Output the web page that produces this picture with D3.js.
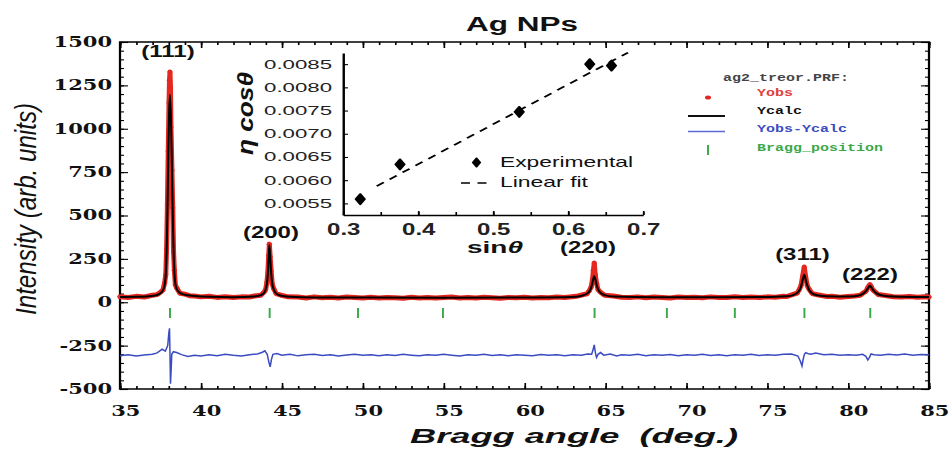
<!DOCTYPE html>
<meta charset="utf-8">
<style type="text/css">
html, body { margin: 0; padding: 0; background: #fff; }
svg { display: block; }
.frame { fill: none; stroke: #000; stroke-width: 1.5; }
.obsline { fill: none; stroke: #e4271f; stroke-width: 5; stroke-linejoin: round; stroke-linecap: round; vector-effect: non-scaling-stroke; }
.obsdot { fill: #e4271f; }
.calc { fill: none; stroke: #000; stroke-width: 2; stroke-linejoin: round; vector-effect: non-scaling-stroke; }
.diff { fill: none; stroke: #3a4cc0; stroke-width: 1.5; vector-effect: non-scaling-stroke; }
.bragg { stroke: #3ba84a; stroke-width: 1.3; }
.fit { fill: none; stroke: #000; stroke-width: 1.6; stroke-dasharray: 6 5; }
</style>
<body>
</body>
<script src="https://d3js.org/d3.v7.min.js"></script>
<script>

// ---- data ----

// Ycalc : [2theta, intensity]
var yCalc = [[35.0,30],[36.0,31],[36.8,34],[37.3,42],[37.5,52],[37.65,68],[37.76,100],[37.83,165],[37.88,285],
  [37.93,515],[37.98,815],[38.03,1075],[38.09,1195],[38.15,1055],[38.21,785],[38.26,515],[38.31,300],[38.36,175],
  [38.42,108],[38.52,74],[38.7,54],[39.0,43],[39.6,36],[40.5,31],[42.0,29],[43.3,33],[43.7,41],[43.9,54],[44.0,74],
  [44.08,108],[44.14,168],[44.19,258],[44.23,330],[44.28,268],[44.34,172],[44.41,108],[44.5,74],[44.65,51],[44.9,39],
  [45.5,32],[47,28],[50,27],[55,26],[60,27],[62.5,29],[63.2,32],[63.6,39],[63.85,49],[64.0,61],[64.12,84],[64.2,113],
  [64.26,138],[64.31,150],[64.37,136],[64.45,103],[64.55,74],[64.7,54],[64.95,41],[65.5,33],[68,29],[72,29],[75.5,31],
  [76.2,34],[76.6,41],[76.85,54],[77.0,71],[77.1,94],[77.19,128],[77.29,158],[77.38,130],[77.48,96],[77.6,69],
  [77.78,51],[78.1,40],[78.7,34],[79.8,33],[80.4,35],[80.75,41],[80.95,51],[81.1,64],[81.2,77],[81.28,89],[81.35,95],
  [81.43,87],[81.52,74],[81.65,59],[81.85,46],[82.2,38],[82.8,33],[85,30]];

// Yobs : [2theta, intensity]
var yObs = [[35.0,32],[35.5,27],[36.0,34],[36.5,30],[37.0,40],[37.3,44],[37.5,58],[37.65,70],[37.76,112],[37.83,160],
  [37.88,310],[37.93,560],[37.98,870],[38.03,1150],[38.06,1280],[38.09,1327],[38.12,1240],[38.15,1010],[38.21,760],
  [38.26,545],[38.31,290],[38.36,185],[38.42,100],[38.52,80],[38.7,52],[39.0,47],[39.3,38],[39.6,36],[40.0,31],
  [40.5,34],[41.0,28],[41.5,32],[42.0,27],[42.5,31],[43.0,30],[43.3,36],[43.7,40],[43.9,58],[44.0,72],[44.08,115],
  [44.14,175],[44.19,270],[44.23,335],[44.28,262],[44.34,180],[44.41,105],[44.5,78],[44.65,50],[44.9,42],[45.4,31],
  [46,30],[46.5,25],[47,31],[47.5,26],[48,29],[48.5,24],[49,30],[49.5,27],[50,25],[50.5,29],[51,24],[51.5,28],[52,26],
  [52.5,23],[53,29],[53.5,25],[54,28],[54.5,24],[55,27],[55.5,30],[56,25],[56.5,28],[57,24],[57.5,29],[58,26],
  [58.5,23],[59,28],[59.5,26],[60,29],[60.5,25],[61,28],[61.5,26],[62,30],[62.5,27],[63.2,34],[63.6,43],[63.85,48],
  [64.0,66],[64.12,88],[64.2,130],[64.26,185],[64.31,226],[64.37,160],[64.45,110],[64.55,72],[64.7,58],[64.95,40],
  [65.5,36],[66,29],[66.5,27],[67,31],[67.5,26],[68,30],[68.5,27],[69,25],[69.5,30],[70,27],[70.5,29],[71,26],
  [71.5,31],[72,28],[72.5,27],[73,32],[73.5,28],[74,30],[74.5,27],[75,31],[75.5,29],[76,34],[76.2,33],[76.6,45],
  [76.85,52],[77.0,76],[77.1,100],[77.19,150],[77.29,203],[77.38,145],[77.48,95],[77.6,73],[77.78,50],[78.1,43],
  [78.7,33],[79,34],[79.5,29],[80,33],[80.4,36],[80.75,40],[80.95,55],[81.1,63],[81.2,82],[81.28,93],[81.35,102],
  [81.43,90],[81.52,72],[81.65,62],[81.85,45],[82.2,40],[82.8,32],[83.3,30],[83.8,33],[84.3,29],[84.7,31],[85,30]];

// Yobs-Ycalc, as plotted (offset curve)
var yDiff = [[35,-308],[35.5,-302],[36,-310],[36.5,-304],[37,-300],[37.3,-292],[37.6,-270],[37.8,-282],[37.95,-250],
  [38.02,-175],[38.06,-150],[38.09,-300],[38.12,-470],[38.16,-390],[38.2,-300],[38.3,-285],[38.5,-290],[38.8,-302],
  [39.2,-312],[39.6,-306],[40,-310],[40.5,-303],[41,-308],[41.5,-300],[42,-306],[42.5,-310],[43,-302],[43.5,-298],
  [43.8,-288],[43.95,-280],[44.1,-300],[44.2,-345],[44.28,-372],[44.36,-330],[44.45,-300],[44.7,-295],[45,-305],
  [45.5,-300],[46,-309],[46.5,-303],[47,-300],[47.5,-307],[48,-302],[48.5,-310],[49,-304],[49.5,-300],[50,-306],
  [50.5,-302],[51,-309],[51.5,-303],[52,-307],[52.5,-300],[53,-305],[53.5,-309],[54,-302],[54.5,-306],[55,-300],
  [55.5,-305],[56,-310],[56.5,-303],[57,-306],[57.5,-300],[58,-307],[58.5,-303],[59,-309],[59.5,-302],[60,-305],
  [60.5,-308],[61,-301],[61.5,-306],[62,-303],[62.5,-308],[63,-302],[63.5,-305],[63.9,-298],[64.15,-300],[64.25,-270],
  [64.31,-246],[64.38,-290],[64.45,-318],[64.55,-300],[64.7,-290],[64.9,-305],[65.3,-298],[65.7,-310],[66,-303],
  [66.5,-306],[67,-300],[67.5,-308],[68,-302],[68.5,-306],[69,-301],[69.5,-309],[70,-303],[70.5,-306],[71,-300],
  [71.5,-307],[72,-303],[72.5,-309],[73,-302],[73.5,-305],[74,-300],[74.5,-307],[75,-302],[75.5,-306],[76,-300],
  [76.5,-298],[76.9,-310],[77.05,-340],[77.15,-367],[77.22,-330],[77.3,-300],[77.38,-290],[77.5,-295],[77.7,-300],
  [78,-293],[78.5,-303],[79,-300],[79.5,-306],[80,-302],[80.5,-305],[80.9,-300],[81.1,-312],[81.22,-333],[81.32,-318],
  [81.42,-298],[81.6,-302],[82,-306],[82.5,-300],[83,-304],[83.5,-299],[84,-305],[84.5,-301],[85,-303]];

var braggPos = [38.09, 44.25, 49.71, 54.96, 64.33, 68.8, 73.0, 77.3, 81.37];
var braggLevel = -62;

var peakNames = ["(111)", "(200)", "(220)", "(311)", "(222)"];
var peakLabelX = [37.97, 44.33, 63.92, 77.18, 81.35];
var peakLabelY = [1413, 368, 284, 243, 128];

var xTicks = d3.range(35, 86, 5);
var yTicks = d3.range(-500, 1501, 250);

var legendNames = ["Yobs", "Ycalc", "Yobs-Ycalc", "Bragg_position"];
var legendColors = ["#e0403a", "#111", "#3a4cc0", "#3ba84a"];

// inset : eta*cos(theta) against sin(theta)
var sinTheta = [0.323, 0.376, 0.535, 0.629, 0.658];
var etaCos = [0.00559, 0.00634, 0.00747, 0.00850, 0.00847];
var fitSin = [0.345, 0.680];
var fitEta = [0.00587, 0.00875];
var insetXTicks = [0.3, 0.4, 0.5, 0.6, 0.7];
var insetYTicks = [0.0055, 0.006, 0.0065, 0.007, 0.0075, 0.008, 0.0085];

// ---- layout ----
// the reference is stretched sideways, so draw in a narrower viewBox
var K = 1.5, W = 950, H = 449;
function px(v) { return v / K; }

var svg = d3.select("body").append("svg")
    .attr("width", W)
    .attr("height", H)
    .attr("viewBox", "0 0 " + px(W) + " " + H)
    .attr("preserveAspectRatio", "none");

var x = d3.scaleLinear().domain([35, 85]).range([px(120), px(929)]);
var y = d3.scaleLinear().domain([-500, 1500]).range([389, 42]);

function tidy(g) {
  g.select(".domain").remove();
  g.selectAll("line").attr("stroke", "#000").attr("stroke-width", 1.1);
}

// minor ticks first, then major ones with labels
svg.append("g").attr("transform", "translate(0," + y(-500) + ")")
    .call(d3.axisBottom(x).tickValues(d3.range(35, 86, 1)).tickSize(-3).tickFormat("")).call(tidy);
svg.append("g").attr("transform", "translate(0," + y(1500) + ")")
    .call(d3.axisTop(x).tickValues(d3.range(35, 86, 1)).tickSize(-3).tickFormat("")).call(tidy);
svg.append("g").attr("transform", "translate(" + x(35) + ",0)")
    .call(d3.axisLeft(y).tickValues(d3.range(-500, 1501, 50)).tickSize(-px(4)).tickFormat("")).call(tidy);
svg.append("g").attr("transform", "translate(" + x(85) + ",0)")
    .call(d3.axisRight(y).tickValues(d3.range(-500, 1501, 50)).tickSize(-px(4)).tickFormat("")).call(tidy);

var xAxis = svg.append("g").attr("transform", "translate(0," + y(-500) + ")")
    .call(d3.axisBottom(x).tickValues(xTicks).tickSizeInner(-6).tickSizeOuter(0).tickPadding(17)
        .tickFormat(function(d) { return String(d); }))
    .call(tidy);
xAxis.attr("font-family", "DejaVu Serif").attr("font-size", 14).attr("font-weight", "bold");
xAxis.selectAll("text").attr("x", px(5)).attr("fill", "#111");

svg.append("g").attr("transform", "translate(0," + y(1500) + ")")
    .call(d3.axisTop(x).tickValues(xTicks).tickSize(-6).tickFormat("")).call(tidy);

var yAxis = svg.append("g").attr("transform", "translate(" + x(35) + ",0)")
    .call(d3.axisLeft(y).tickValues(yTicks).tickSizeInner(-px(8)).tickSizeOuter(0).tickPadding(px(8))
        .tickFormat(function(d) { return String(d); }))
    .call(tidy);
yAxis.attr("font-family", "DejaVu Serif").attr("font-size", 14).attr("font-weight", "bold");
yAxis.selectAll("text").attr("fill", "#111");

svg.append("g").attr("transform", "translate(" + x(85) + ",0)")
    .call(d3.axisRight(y).tickValues(yTicks).tickSize(-px(8)).tickFormat("")).call(tidy);

svg.append("rect").attr("class", "frame")
    .attr("x", x(35)).attr("y", y(1500))
    .attr("width", x(85) - x(35)).attr("height", y(-500) - y(1500));

// ---- pattern ----
var line = d3.line().x(function(d) { return x(d[0]); }).y(function(d) { return y(d[1]); });

svg.append("path").datum(yObs).attr("class", "obsline").attr("d", line);
svg.selectAll(".obsdot").data(yObs).enter().append("circle")
    .attr("class", "obsdot")
    .attr("cx", function(d) { return x(d[0]); })
    .attr("cy", function(d) { return y(d[1]); })
    .attr("r", 1.8);

svg.append("path").datum(yCalc).attr("class", "calc")
    .attr("d", line.curve(d3.curveMonotoneX));
line.curve(d3.curveLinear);

svg.append("path").datum(yDiff).attr("class", "diff").attr("d", line);

svg.selectAll(".bragg").data(braggPos).enter().append("line")
    .attr("class", "bragg")
    .attr("x1", function(d) { return x(d); }).attr("x2", function(d) { return x(d); })
    .attr("y1", y(braggLevel) - 5).attr("y2", y(braggLevel) + 5);

svg.selectAll(".peak").data(peakNames).enter().append("text")
    .attr("class", "peak")
    .attr("x", function(d, i) { return x(peakLabelX[i]); })
    .attr("y", function(d, i) { return y(peakLabelY[i]); })
    .attr("text-anchor", "middle")
    .attr("font-family", "Liberation Sans, Arial, sans-serif")
    .attr("font-size", 16).attr("font-weight", "bold").attr("fill", "#111")
    .text(function(d) { return d; });

// titles
svg.append("text")
    .attr("x", px(522)).attr("y", 31.5)
    .attr("text-anchor", "middle")
    .attr("font-family", "Liberation Sans, Arial, sans-serif")
    .attr("font-size", 21).attr("font-weight", "bold").attr("fill", "#111")
    .text("Ag NPs");

svg.append("text")
    .attr("x", px(410)).attr("y", 443)
    .attr("font-family", "Liberation Sans, Arial, sans-serif")
    .attr("font-size", 21).attr("font-weight", "bold").attr("font-style", "italic")
    .attr("fill", "#111").style("white-space", "pre")
    .attr("textLength", px(328)).attr("lengthAdjust", "spacingAndGlyphs")
    .text("Bragg angle  (deg.)");

svg.append("text")
    .attr("transform", "translate(" + px(35.5) + ",209) rotate(-90)")
    .attr("text-anchor", "middle")
    .attr("font-family", "Liberation Sans, Arial, sans-serif")
    .attr("font-size", 20).attr("font-style", "italic").attr("fill", "#111")
    .attr("textLength", 212).attr("lengthAdjust", "spacingAndGlyphs")
    .text("Intensity (arb. units)");

// ---- FullProf legend ----
var leg = svg.append("g")
    .attr("font-family", "Liberation Mono, DejaVu Sans Mono, monospace")
    .attr("font-size", 10).attr("font-weight", "bold");

leg.append("text").attr("x", px(723)).attr("y", 81).attr("fill", "#444").text("ag2_treor.PRF:");
leg.selectAll(".legtext").data(legendNames).enter().append("text")
    .attr("class", "legtext")
    .attr("x", px(757))
    .attr("y", function(d, i) { return 96 + i * 18.2; })
    .attr("fill", function(d, i) { return legendColors[i]; })
    .text(function(d) { return d; });

leg.append("circle").attr("cx", px(708)).attr("cy", 97.5).attr("r", 2).attr("fill", "#e4271f");
leg.append("line").attr("x1", px(688)).attr("x2", px(725)).attr("y1", 116).attr("y2", 116)
    .attr("stroke", "#111").attr("stroke-width", 2.2);
leg.append("line").attr("x1", px(688)).attr("x2", px(725)).attr("y1", 131.5).attr("y2", 131.5)
    .attr("stroke", "#5a6ad0").attr("stroke-width", 1.3);
leg.append("line").attr("x1", px(708)).attr("x2", px(708)).attr("y1", 145).attr("y2", 155)
    .attr("class", "bragg");

// ---- inset ----
var ix = d3.scaleLinear().domain([0.3, 0.7]).range([px(343), px(643)]);
var iy = d3.scaleLinear().domain([0.00525, 0.00874]).range([215, 53]);

var inset = svg.append("g");

inset.append("g").attr("transform", "translate(0,215)")
    .call(d3.axisBottom(ix).tickValues(d3.range(0.3, 0.701, 0.05)).tickSize(-3).tickFormat(""))
    .call(tidy);

var ixAxis = inset.append("g").attr("transform", "translate(0,215)")
    .call(d3.axisBottom(ix).tickValues(insetXTicks).tickSizeInner(-4).tickSizeOuter(0)
        .tickPadding(8.5).tickFormat(d3.format(".1f")));
ixAxis.select(".domain").attr("stroke", "#000").attr("stroke-width", 1.6);
ixAxis.selectAll("line").attr("stroke-width", 1.1);
ixAxis.attr("font-family", "Liberation Sans, Arial, sans-serif").attr("font-size", 16).attr("font-weight", "bold");
ixAxis.selectAll("text").attr("fill", "#222");

var iyAxis = inset.append("g").attr("transform", "translate(" + ix(0.3) + ",0)")
    .call(d3.axisLeft(iy).tickValues(insetYTicks).tickSizeInner(-px(5)).tickSizeOuter(0)
        .tickPadding(px(11)).tickFormat(d3.format(".4f")));
iyAxis.select(".domain").attr("stroke", "#000").attr("stroke-width", 1.6);
iyAxis.selectAll("line").attr("stroke-width", 1.1);
iyAxis.attr("font-family", "Liberation Sans, Arial, sans-serif").attr("font-size", 12.5);
iyAxis.selectAll("text").attr("fill", "#222")
    .attr("textLength", px(68)).attr("lengthAdjust", "spacingAndGlyphs");

// linear fit
inset.append("path")
    .datum(d3.zip(fitSin, fitEta))
    .attr("class", "fit")
    .attr("d", d3.line().x(function(d) { return ix(d[0]); }).y(function(d) { return iy(d[1]); }));

inset.selectAll(".pt").data(d3.zip(sinTheta, etaCos)).enter().append("path")
    .attr("class", "pt")
    .attr("transform", function(d) { return "translate(" + ix(d[0]) + "," + iy(d[1]) + ")"; })
    .attr("d", d3.symbol(d3.symbolDiamond, 32))
    .attr("fill", "#000").attr("stroke", "#000").attr("stroke-width", 1.4).attr("stroke-linejoin", "round");

// inset legend
inset.append("path")
    .attr("transform", "translate(" + px(476.5) + ",162.5)")
    .attr("d", d3.symbol(d3.symbolDiamond, 22))
    .attr("fill", "#000").attr("stroke", "#000").attr("stroke-width", 1.2).attr("stroke-linejoin", "round");
inset.append("line").attr("class", "fit")
    .attr("x1", px(461)).attr("x2", px(492)).attr("y1", 183).attr("y2", 183);

inset.selectAll(".ilg").data(["Experimental", "Linear fit"]).enter().append("text")
    .attr("class", "ilg")
    .attr("x", px(500))
    .attr("y", function(d, i) { return 167 + i * 20; })
    .attr("font-family", "Liberation Sans, Arial, sans-serif")
    .attr("font-size", 14).attr("fill", "#111")
    .attr("textLength", function(d, i) { return i ? px(88) : px(133); })
    .attr("lengthAdjust", "spacingAndGlyphs")
    .text(function(d) { return d; });

// inset axis titles
var sinLab = inset.append("text")
    .attr("x", px(467)).attr("y", 253)
    .attr("font-family", "Liberation Sans, Arial, sans-serif")
    .attr("font-size", 16).attr("font-weight", "bold").attr("fill", "#111")
    .attr("textLength", px(56)).attr("lengthAdjust", "spacingAndGlyphs");
sinLab.append("tspan").text("sin");
sinLab.append("tspan").attr("font-style", "italic").text("\u03b8");

var etaLab = inset.append("text")
    .attr("transform", "translate(" + px(253) + ",113.5) rotate(-90)")
    .attr("text-anchor", "middle")
    .attr("font-family", "Liberation Sans, Arial, sans-serif")
    .attr("font-size", 15).attr("font-weight", "bold").attr("font-style", "italic").attr("fill", "#111")
    .attr("textLength", 83).attr("lengthAdjust", "spacingAndGlyphs")
    .text("\u03b7 cos\u03b8");

</script>
